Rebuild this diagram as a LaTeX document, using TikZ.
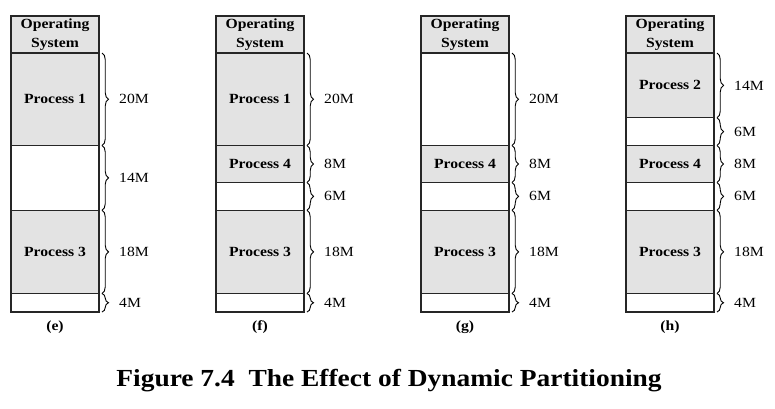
\documentclass[tikz,border=0pt]{standalone}
\usepackage{fontspec}
\setmainfont{Liberation Serif}[FakeStretch=1.12]
\usetikzlibrary{positioning,decorations.pathreplacing}

\begin{document}
\begin{tikzpicture}[x=1pt,y=1pt,
  mem/.style={draw=black!85,line width=1.4pt,minimum width=88pt,inner sep=0pt,outer sep=0pt,anchor=north,font=\fontsize{14}{18.5}\selectfont\bfseries},
  used/.style={mem,fill=black!11},
  free/.style={mem,fill=white},
  brace/.style={decorate,decoration={brace,amplitude=6.5pt,raise=3pt},line width=.9pt},
  size/.style={font=\fontsize{14}{16}\selectfont,inner sep=0pt},
  tag/.style={font=\fontsize{14}{16}\selectfont\bfseries}]
\useasboundingbox (0,0) rectangle (775,-408);

% (e)
\node[used,minimum height=37pt,align=center] (e0) at (55,-16) {Operating\\System};
\node[used,minimum height=92.5pt,below=0pt of e0] (e1) {Process 1};
\node[free,minimum height=64.75pt,below=0pt of e1] (e2) {};
\node[used,minimum height=83.25pt,below=0pt of e2] (e3) {Process 3};
\node[free,minimum height=18.5pt,below=0pt of e3] (e4) {};

% (f)
\node[used,minimum height=37pt,align=center] (f0) at (260,-16) {Operating\\System};
\node[used,minimum height=92.5pt,below=0pt of f0] (f1) {Process 1};
\node[used,minimum height=37pt,below=0pt of f1] (f2) {Process 4};
\node[free,minimum height=27.75pt,below=0pt of f2] (f3) {};
\node[used,minimum height=83.25pt,below=0pt of f3] (f4) {Process 3};
\node[free,minimum height=18.5pt,below=0pt of f4] (f5) {};

% (g)
\node[used,minimum height=37pt,align=center] (g0) at (465,-16) {Operating\\System};
\node[free,minimum height=92.5pt,below=0pt of g0] (g1) {};
\node[used,minimum height=37pt,below=0pt of g1] (g2) {Process 4};
\node[free,minimum height=27.75pt,below=0pt of g2] (g3) {};
\node[used,minimum height=83.25pt,below=0pt of g3] (g4) {Process 3};
\node[free,minimum height=18.5pt,below=0pt of g4] (g5) {};

% (h)
\node[used,minimum height=37pt,align=center] (h0) at (670,-16) {Operating\\System};
\node[used,minimum height=64.75pt,below=0pt of h0] (h1) {Process 2};
\node[free,minimum height=27.75pt,below=0pt of h1] (h2) {};
\node[used,minimum height=37pt,below=0pt of h2] (h3) {Process 4};
\node[free,minimum height=27.75pt,below=0pt of h3] (h4) {};
\node[used,minimum height=83.25pt,below=0pt of h4] (h5) {Process 3};
\node[free,minimum height=18.5pt,below=0pt of h5] (h6) {};

% sizes
\foreach \n/\t in {e1/20M,e2/14M,e3/18M,e4/4M,f1/20M,f2/8M,f3/6M,f4/18M,f5/4M,g1/20M,g2/8M,g3/6M,g4/18M,g5/4M,h1/14M,h2/6M,h3/8M,h4/6M,h5/18M,h6/4M}{
  \draw[brace] (\n.north east) -- (\n.south east);
  \node[size,right=20pt of \n] (\n-m) {\t};
}

\node[tag] (et) at (55,-327) {(e)};
\node[tag] (ft) at (260,-327) {(f)};
\node[tag] (gt) at (465,-327) {(g)};
\node[tag] (ht) at (670,-327) {(h)};

\node[font=\fontsize{24.5}{30}\selectfont\bfseries] (cap) at (389,-381) {Figure 7.4\ \ The Effect of Dynamic Partitioning};
\end{tikzpicture}
\end{document}
